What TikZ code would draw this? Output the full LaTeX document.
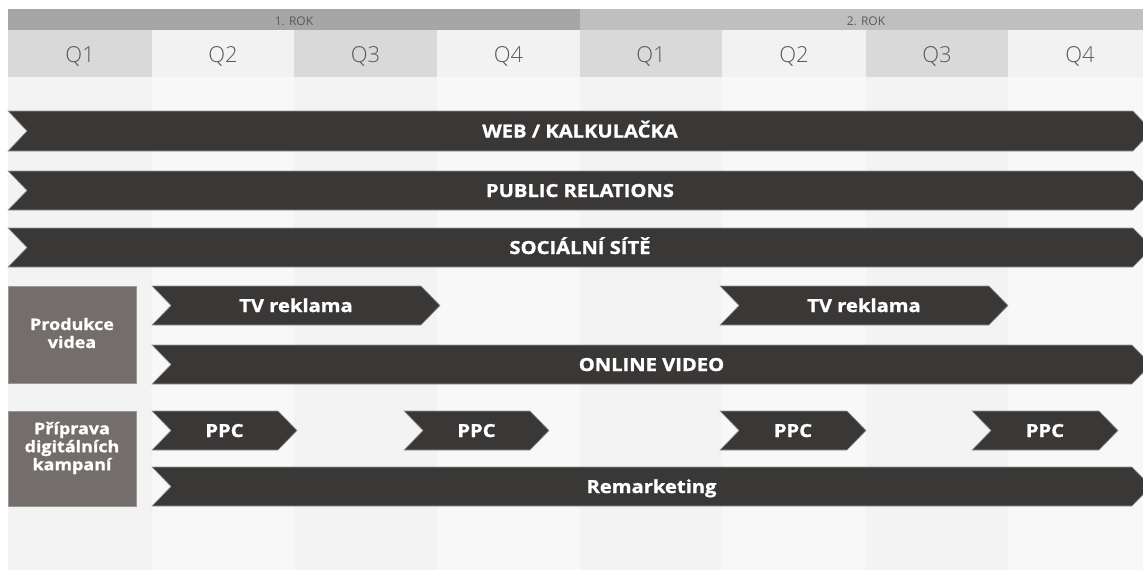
\documentclass[tikz,border=0pt]{standalone}
\usepackage{fontspec}
\setmainfont{Open Sans}
\newfontfamily\heavyfont{Open Sans}[FakeStretch=1.12, BoldFeatures={FakeBold=1.2}]
\newfontfamily\lightfont{Open Sans Light}
\definecolor{barfill}{HTML}{3A3836}
\definecolor{baredge}{HTML}{9A9896}
\definecolor{boxfill}{HTML}{736E6C}
\definecolor{qtext}{HTML}{595959}
\definecolor{yearA}{HTML}{A6A6A6}
\definecolor{yearB}{HTML}{BFBFBF}
\definecolor{qdark}{HTML}{D9D9D9}
\definecolor{qlight}{HTML}{F2F2F2}
\definecolor{bdark}{HTML}{F3F3F3}
\definecolor{blight}{HTML}{F8F8F8}
\tikzset{
  qlabel/.style={anchor=base, text=qtext, font=\lightfont\fontsize{22}{24}\selectfont, inner sep=0pt},
  yearlabel/.style={anchor=base, text=qtext, font=\fontsize{12}{14}\selectfont, inner sep=0pt},
  bartext/.style={anchor=base, text=white, font=\heavyfont\bfseries\fontsize{18}{20}\selectfont, inner sep=0pt},
  boxtext/.style={text=white, align=center, font=\heavyfont\bfseries\fontsize{16}{18}\selectfont, inner sep=0pt},
  chevshape/.style={fill=barfill, draw=baredge, line width=0.6pt},
  sidebox/.style={fill=boxfill, draw=baredge, line width=0.6pt}
}
\newcommand\chevbar[6]{%
  \path[chevshape] (#2,#4) -- (#3,#4) -- ({#3+19},{(#4+#5)/2}) -- (#3,#5) -- (#2,#5) -- ({#2+19},{(#4+#5)/2}) -- cycle;
  \node[bartext] (#1) at ({(#2+#3+19)/2},{(#4+#5)/2+6.5}) {#6};}
\begin{document}
\begin{tikzpicture}[x=1pt,y=-1pt]
\useasboundingbox (0,0) rectangle (1143,570);
\clip (0,0) rectangle (1143,570);
\fill[white] (0,0) rectangle (1143,570);
% columns
\foreach \a/\b/\c/\d/\q [count=\i] in {8/152/qdark/bdark/Q1, 152/294/qlight/blight/Q2, 294/437/qdark/bdark/Q3, 437/580/qlight/blight/Q4, 580/722/qdark/bdark/Q1, 722/866/qlight/blight/Q2, 866/1008/qdark/bdark/Q3, 1008/1152/qlight/blight/Q4}{
  \fill[\c] (\a,30) rectangle (\b,77);
  \fill[\d] (\a,77) rectangle (\b,570);
  \node[qlabel] (q\i) at ({(\a+\b)/2},62.5) {\q};
}
% years
\fill[yearA] (8,9) rectangle (580,30);
\fill[yearB] (580,9) rectangle (1152,30);
\node[yearlabel] (rok1) at (294,25) {1. ROK};
\node[yearlabel] (rok2) at (866,25) {2. ROK};
% full bars
\chevbar{web}{8}{1133}{111}{151}{WEB / KALKULAČKA}
\chevbar{pr}{8}{1133}{171}{210}{PUBLIC RELATIONS}
\chevbar{soc}{8}{1133}{228}{267}{SOCIÁLNÍ SÍTĚ}
% video group
\path[sidebox] (8,286) rectangle (136,383);
\node[boxtext] (produkce) at (72,333) {Produkce\\videa};
\chevbar{tv1}{152}{421}{286}{325}{TV reklama}
\chevbar{tv2}{720}{989}{286}{325}{TV reklama}
\chevbar{online}{152}{1132}{345}{384}{ONLINE VIDEO}
% digital group
\path[sidebox] (8,411) rectangle (136,506);
\node[boxtext] (priprava) at (72,448) {Příprava\\digitálních\\kampaní};
\chevbar{ppc1}{152}{278}{411}{450}{PPC}
\chevbar{ppc2}{404}{530}{411}{450}{PPC}
\chevbar{ppc3}{720}{847}{411}{450}{PPC}
\chevbar{ppc4}{972}{1099}{411}{450}{PPC}
\chevbar{remark}{152}{1132}{467}{506}{Remarketing}
\end{tikzpicture}
\end{document}
